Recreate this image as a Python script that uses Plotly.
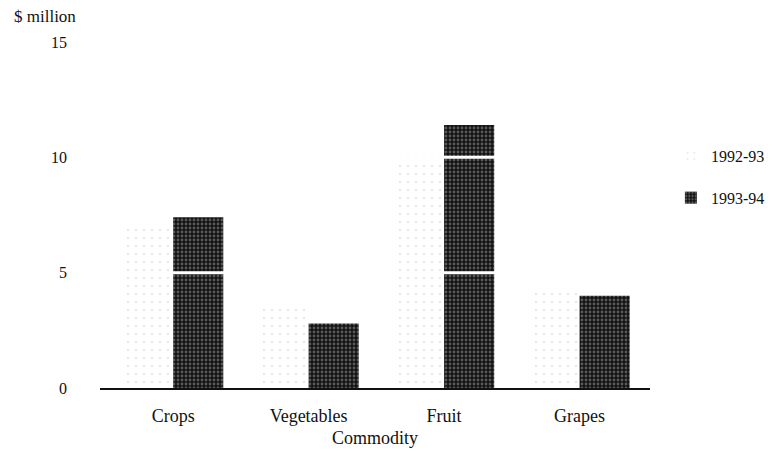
import plotly.graph_objects as go

commodities = ['Crops', 'Vegetables', 'Fruit', 'Grapes']
values_9293 = [6.9, 3.6, 10.0, 4.3]
values_9394 = [7.4, 2.8, 11.4, 4.0]
y_ticks = [0, 5, 10, 15]

serif = 'Liberation Serif'

fig = go.Figure()

fig.add_trace(
    go.Bar(
        x=commodities,
        y=values_9293,
        name='1992-93',
        legendgroup='a',
        marker=dict(
            color='white',
            line=dict(width=0),
            pattern=dict(shape='.', fgcolor='#c4c4c4', bgcolor='white', size=8, solidity=0.06),
        ),
    )
)

fig.add_trace(
    go.Bar(
        x=commodities,
        y=values_9394,
        name='1993-94',
        legendgroup='b',
        marker=dict(
            color='#121212',
            line=dict(width=0),
            pattern=dict(shape='.', fgcolor='#a0a0a0', bgcolor='#121212', size=4, solidity=0.4),
        ),
    )
)

# white rules cutting across the bars at the tick levels
for yv in y_ticks[1:3]:
    fig.add_shape(type='line', xref='paper', yref='y', x0=0, x1=1, y0=yv, y1=yv,
                  line=dict(color='white', width=3), layer='above')

fig.update_layout(
    width=779,
    height=451,
    paper_bgcolor='white',
    plot_bgcolor='white',
    barmode='group',
    bargap=0.26,
    bargroupgap=0,
    margin=dict(l=92, r=137, t=34, b=71),
    font=dict(family=serif, size=15, color='#111'),
    showlegend=True,
    legend=dict(
        x=1.038, y=0.61, xanchor='left', yanchor='middle',
        font=dict(family=serif, size=16, color='#111'),
        tracegroupgap=18, itemsizing='constant',
        bgcolor='rgba(0,0,0,0)',
    ),
    annotations=[
        dict(text='$ million', xref='paper', yref='paper', x=-0.16, y=1.04,
             xanchor='left', yanchor='bottom', showarrow=False,
             font=dict(family=serif, size=17, color='#111')),
    ],
)

fig.update_xaxes(
    range=[-0.54, 3.52],
    automargin=False,
    showline=True, linecolor='#111', linewidth=2,
    ticks='', showgrid=False, ticklabelstandoff=10,
    title=dict(text='Commodity', font=dict(family=serif, size=18), standoff=7),
    tickfont=dict(family=serif, size=18),
)

fig.update_yaxes(
    range=[0, 15],
    automargin=False,
    tickvals=y_ticks,
    showline=False, showgrid=False, zeroline=False,
    ticks='', ticklabelstandoff=32,
    tickfont=dict(family=serif, size=16),
)

fig.write_html('out.html')
